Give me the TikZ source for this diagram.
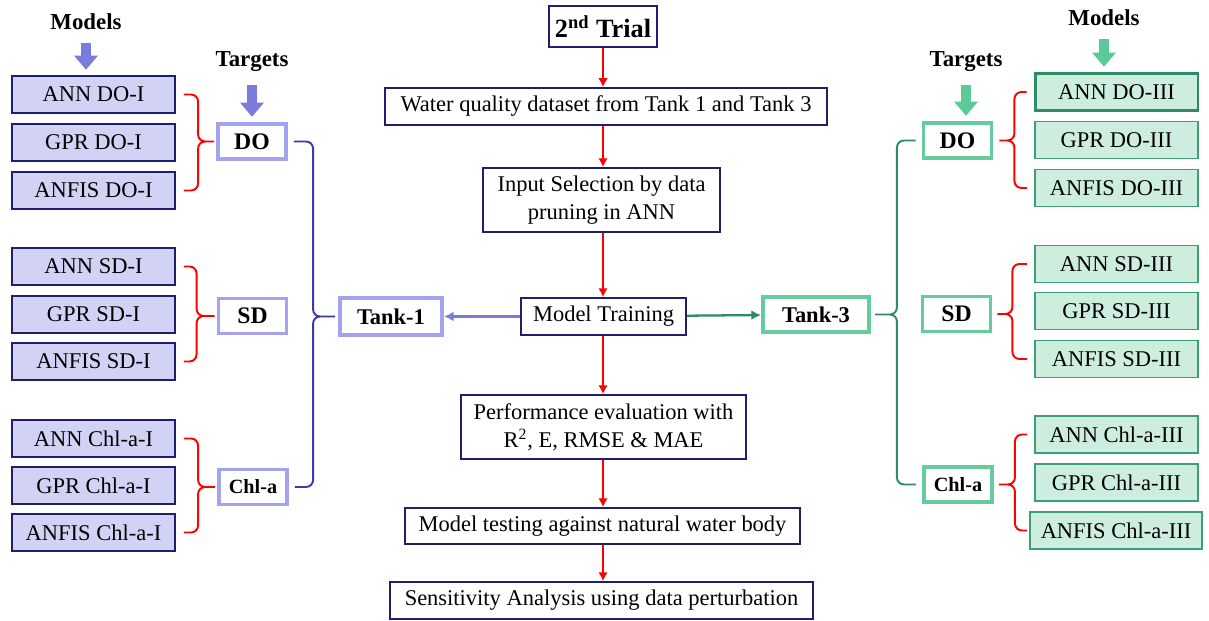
\documentclass[tikz,border=0pt]{standalone}
\usepackage{fontspec}
\setmainfont{Liberation Serif}
\usetikzlibrary{arrows.meta, positioning, calc}
\definecolor{snavy}{HTML}{1F1F6E}
\definecolor{lavfill}{HTML}{D2D2F5}
\definecolor{lavline}{HTML}{A3A3F0}
\definecolor{lavarr}{HTML}{7B7BDE}
\definecolor{bluebr}{HTML}{3A3AA8}
\definecolor{grnfill}{HTML}{CDEEDF}
\definecolor{grnline}{HTML}{3E9E75}
\definecolor{grntgt}{HTML}{66CC9C}
\definecolor{grnarr}{HTML}{5CC999}
\definecolor{grnbr}{HTML}{2E8B65}
\definecolor{sred}{HTML}{FF0000}
\tikzset{
  >=Latex,
  x=0.02cm, y=-0.02cm,
  flowbox/.style={
    draw=snavy, fill=white, line width=1.1pt, align=center, inner sep=2pt,
    font=\fontsize{12.8}{16}\selectfont
  },
  mbox/.style={
    draw=#1, line width=1.1pt, inner sep=0pt, align=center,
    minimum width=3.26cm, minimum height=0.74cm, font=\fontsize{12.8}{15}\selectfont
  },
  mleft/.style={mbox=snavy, fill=lavfill},
  mright/.style={mbox=grnline, fill=grnfill},
  tgt/.style={
    draw=#1, fill=white, line width=2.2pt, inner sep=0pt,
    minimum width=1.36cm, minimum height=0.7cm, font=\fontsize{13.5}{16}\selectfont\bfseries
  },
  lab/.style={font=\fontsize{13}{15}\selectfont\bfseries},
  blockarr/.style={draw=#1, line width=5.5pt, -{Triangle[length=8pt, width=13pt]}},
  redarr/.style={draw=sred, line width=1.3pt, -{Latex[length=5pt, width=5.5pt]}},
  redbrace/.style={draw=sred, line width=1.1pt, rounded corners=4pt},
  tankbrace/.style={draw=#1, line width=1.1pt, rounded corners=4pt}
}
\begin{document}
\begin{tikzpicture}
  \useasboundingbox (0,0) rectangle (1209,621);

  % centre column
  \node[flowbox, minimum width=2.16cm, minimum height=0.82cm, font=\fontsize{15}{18}\selectfont\bfseries] (trial) at (603,26.5) {2\textsuperscript{nd} Trial};
  \node[flowbox, minimum width=8.84cm, minimum height=0.74cm] (water) at (606,106.5) {Water quality dataset from Tank 1 and Tank 3};
  \node[flowbox, minimum width=4.74cm, minimum height=1.28cm] (input) at (601.5,200) {Input Selection by data\\pruning in ANN};
  \node[flowbox, minimum width=3.3cm, minimum height=0.74cm] (train) at (603.5,316.5) {Model Training};
  \node[flowbox, minimum width=5.7cm, minimum height=1.28cm] (perf) at (603.5,427) {Performance evaluation with\\R\textsuperscript{2}, E, RMSE \& MAE};
  \node[flowbox, minimum width=7.9cm, minimum height=0.72cm] (test) at (602.5,526) {Model testing against natural water body};
  \node[flowbox, minimum width=8.46cm, minimum height=0.74cm] (sens) at (601.5,600.5) {Sensitivity Analysis using data perturbation};

  \draw[redarr] (trial) -- (trial |- water.north);
  \draw[redarr] (water.south -| trial) -- (trial |- input.north);
  \draw[redarr] (input.south -| trial) -- (trial |- train.north);
  \draw[redarr] (train.south -| trial) -- (trial |- perf.north);
  \draw[redarr] (perf.south -| trial) -- (trial |- test.north);
  \draw[redarr] (test.south -| trial) -- (trial |- sens.north);

  % tanks
  \node[tgt=lavline, minimum width=2.04cm, minimum height=0.74cm, font=\fontsize{12.8}{16}\selectfont\bfseries] (tank1) at (391,316.5) {Tank-1};
  \node[tgt=grntgt, minimum width=2.12cm, minimum height=0.7cm, font=\fontsize{12.8}{16}\selectfont\bfseries] (tank3) at (816,314.5) {Tank-3};
  \draw[draw=lavarr, line width=1.3pt, -{Latex[length=5.5pt, width=5.5pt]}] (train) -- (tank1);
  \draw[draw=grnbr, line width=1.3pt, -{Latex[length=5.5pt, width=5.5pt]}] (train) -- (tank3);

  % left side: targets and models
  \node[lab] (modelsL) at (86,22) {Models};
  \node[lab] (targetsL) at (252,62) {Targets};
  \node[tgt=lavline] (doL) at (252,141.5) {DO};
  \node[tgt=lavline] (sdL) at (252.5,316) {SD};
  \node[tgt=lavline, font=\fontsize{11.5}{14}\selectfont\bfseries] (chlL) at (253,487) {Chl-a};

  \node[mleft] (annDOI) at (93.5,94.5) {ANN DO-I};
  \node[mleft] (gprDOI) at (93.5,142.5) {GPR DO-I};
  \node[mleft] (anfisDOI) at (93.5,190.5) {ANFIS DO-I};
  \node[mleft] (annSDI) at (93.5,266.5) {ANN SD-I};
  \node[mleft] (gprSDI) at (93.5,314.5) {GPR SD-I};
  \node[mleft] (anfisSDI) at (93.5,361.5) {ANFIS SD-I};
  \node[mleft] (annChlI) at (93.5,438.5) {ANN Chl-a-I};
  \node[mleft] (gprChlI) at (93.5,485.5) {GPR Chl-a-I};
  \node[mleft] (anfisChlI) at (93.5,532.5) {ANFIS Chl-a-I};

  \draw[blockarr=lavarr, shorten <=4pt, shorten >=3pt] (modelsL.south) -- (modelsL.south |- annDOI.north);
  \draw[blockarr=lavarr, shorten <=4pt, shorten >=3pt] (targetsL.south) -- (targetsL.south |- doL.north);

  \draw[redbrace] ([xshift=0.16cm]annDOI.east) -| ([xshift=-0.36cm]doL.west) -- ([xshift=-0.04cm]doL.west)
    ([xshift=0.16cm]anfisDOI.east) -| ([xshift=-0.36cm]doL.west) -- ([xshift=-0.04cm]doL.west);
  \draw[redbrace] ([xshift=0.16cm]annSDI.east) -| ([xshift=-0.4cm]sdL.west) -- ([xshift=-0.04cm]sdL.west)
    ([xshift=0.16cm]anfisSDI.east) -| ([xshift=-0.4cm]sdL.west) -- ([xshift=-0.04cm]sdL.west);
  \draw[redbrace] ([xshift=0.16cm]annChlI.east) -| ([xshift=-0.38cm]chlL.west) -- ([xshift=-0.04cm]chlL.west)
    ([xshift=0.16cm]anfisChlI.east) -| ([xshift=-0.38cm]chlL.west) -- ([xshift=-0.04cm]chlL.west);

  \draw[tankbrace=bluebr] ([xshift=0.12cm]doL.east) -| ([xshift=-0.5cm]tank1.west) -- ([xshift=-0.06cm]tank1.west)
    ([xshift=0.12cm]chlL.east) -| ([xshift=-0.5cm]tank1.west) -- ([xshift=-0.06cm]tank1.west);

  % right side: targets and models
  \node[lab] (modelsR) at (1104,18) {Models};
  \node[lab] (targetsR) at (966,62) {Targets};
  \node[tgt=grntgt] (doR) at (957.5,140.5) {DO};
  \node[tgt=grntgt] (sdR) at (956.5,314) {SD};
  \node[tgt=grntgt, font=\fontsize{11.5}{14}\selectfont\bfseries] (chlR) at (958,484.5) {Chl-a};

  \node[mright, line width=1.7pt, draw=grnbr] (annDOIII) at (1116.5,92) {ANN DO-III};
  \node[mright] (gprDOIII) at (1116.5,140) {GPR DO-III};
  \node[mright] (anfisDOIII) at (1116.5,188) {ANFIS DO-III};
  \node[mright] (annSDIII) at (1116.5,264) {ANN SD-III};
  \node[mright] (gprSDIII) at (1116.5,311) {GPR SD-III};
  \node[mright] (anfisSDIII) at (1116.5,359) {ANFIS SD-III};
  \node[mright] (annChlIII) at (1116.5,434.5) {ANN Chl-a-III};
  \node[mright] (gprChlIII) at (1116.5,482.5) {GPR Chl-a-III};
  \node[mright, minimum width=3.44cm] (anfisChlIII) at (1116,530.5) {ANFIS Chl-a-III};

  \draw[blockarr=grnarr, shorten <=4pt, shorten >=3pt] (modelsR.south) -- (modelsR.south |- annDOIII.north);
  \draw[blockarr=grnarr, shorten <=4pt, shorten >=3pt] (targetsR.south) -- (targetsR.south |- doR.north);

  \draw[redbrace] ([xshift=-0.14cm]annDOIII.west) -| ([xshift=0.42cm]doR.east) -- ([xshift=0.12cm]doR.east)
    ([xshift=-0.14cm]anfisDOIII.west) -| ([xshift=0.42cm]doR.east) -- ([xshift=0.12cm]doR.east);
  \draw[redbrace] ([xshift=-0.14cm]annSDIII.west) -| ([xshift=0.4cm]sdR.east) -- ([xshift=0.1cm]sdR.east)
    ([xshift=-0.14cm]anfisSDIII.west) -| ([xshift=0.4cm]sdR.east) -- ([xshift=0.1cm]sdR.east);
  \draw[redbrace] ([xshift=-0.14cm]annChlIII.west) -| ([xshift=0.42cm]chlR.east) -- ([xshift=0.1cm]chlR.east)
    ([xshift=-0.04cm]anfisChlIII.west) -| ([xshift=0.42cm]chlR.east) -- ([xshift=0.1cm]chlR.east);

  \draw[tankbrace=grnbr] ([xshift=-0.12cm]doR.west) -| ([xshift=0.52cm]tank3.east) -- ([xshift=0.08cm]tank3.east)
    ([xshift=-0.12cm]chlR.west) -| ([xshift=0.52cm]tank3.east) -- ([xshift=0.08cm]tank3.east);
\end{tikzpicture}
\end{document}
